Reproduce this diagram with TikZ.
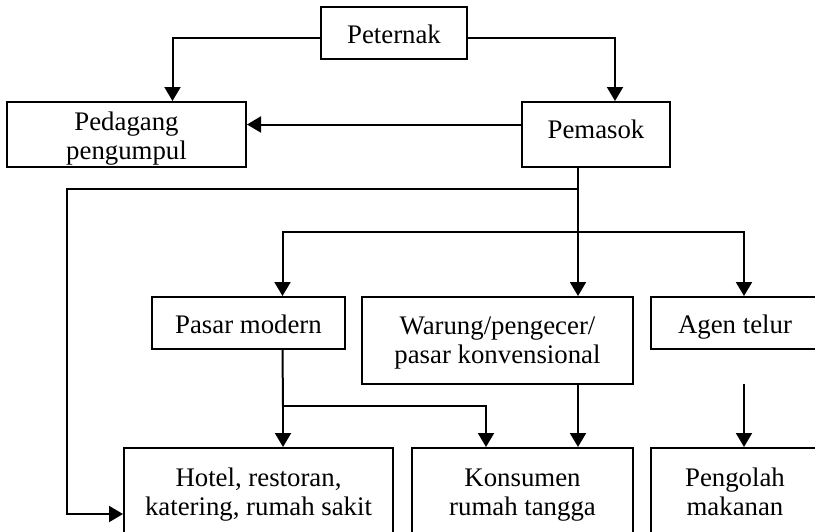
\documentclass[tikz,border=0pt]{standalone}
\usepackage{fontspec}
\setmainfont{Liberation Serif}
\usetikzlibrary{arrows.meta}

\tikzset{
  box/.style={draw, line width=1pt, align=center, inner sep=0pt,
    font=\fontsize{13.4}{14.5}\selectfont},
  arr/.style={line width=1pt, -{Triangle[length=7pt,width=8pt]}},
  link/.style={line width=1pt}
}

\begin{document}
\begin{tikzpicture}[x=0.5pt, y=-0.5pt]
  % page frame
  \useasboundingbox (0,0) rectangle (815,531);
  \clip (0,0) rectangle (815,531);

  % top level
  \node[box, minimum width=73pt, text height=18pt, text depth=8pt] (peternak) at (394,33) {Peternak};
  \node[box, minimum width=119.5pt, text height=28.5pt, text depth=4pt] (pedagang) at (126.5,134.5) {Pedagang\\pengumpul};
  \node[box, minimum width=74pt, text height=18pt, text depth=14.5pt] (pemasok) at (596,134.5) {Pemasok};

  % retail level
  \node[box, minimum width=96.5pt, text height=18pt, text depth=8pt] (pasar) at (248.5,323) {Pasar modern};
  \node[box, minimum width=135.5pt, text height=33pt, text depth=10.5pt] (warung) at (497.5,340.5) {Warung/pengecer/\\pasar konvensional};
  \node[box, minimum width=84pt, text height=18pt, text depth=8pt] (agen) at (735,323) {Agen telur};

  % end users
  \node[box, minimum width=134.5pt, text height=33.5pt, text depth=10.5pt] (hotel) at (258.5,492) {Hotel, restoran,\\katering, rumah sakit};
  \node[box, minimum width=110.5pt, text height=33.5pt, text depth=10.5pt] (konsumen) at (522.5,492) {Konsumen\\rumah tangga};
  \node[box, minimum width=84pt, text height=33.5pt, text depth=10.5pt] (pengolah) at (735,492) {Pengolah\\makanan};

  % junctions
  \coordinate (hub1) at (578,189);
  \coordinate (hub2) at (578,232);
  \coordinate (lft) at (66.5,189);
  \coordinate (mid) at (283,406);
  \coordinate (agenfree) at (744,384);

  % from peternak
  \draw[arr] ([yshift=-2.5pt]peternak.west) -| ([xshift=23pt]pedagang.north);
  \draw[arr] ([yshift=-2.5pt]peternak.east) -| ([xshift=9.5pt]pemasok.north);
  \draw[arr] ([yshift=5pt]pemasok.west) -- ([yshift=5pt]pedagang.east);

  % from pemasok
  \draw[arr] (pemasok.south -| hub1) -- (warung.north -| hub1);
  \draw[arr] (hub1) -- (lft) |- ([yshift=-11pt]hotel.west);
  \draw[arr] (hub2) -| ([xshift=17pt]pasar.north);
  \draw[arr] (hub2) -| ([xshift=4.5pt]agen.north);

  % to end users
  \draw[link] ([xshift=17pt]pasar.south) -- (mid);
  \draw[arr] (mid) -- (hotel.north -| mid);
  \draw[arr] (mid) -| ([xshift=-18.25pt]konsumen.north);
  \draw[arr] (warung.south -| hub1) -- (konsumen.north -| hub1);
  \draw[arr] (agenfree) -- (pengolah.north -| agenfree);
\end{tikzpicture}
\end{document}
